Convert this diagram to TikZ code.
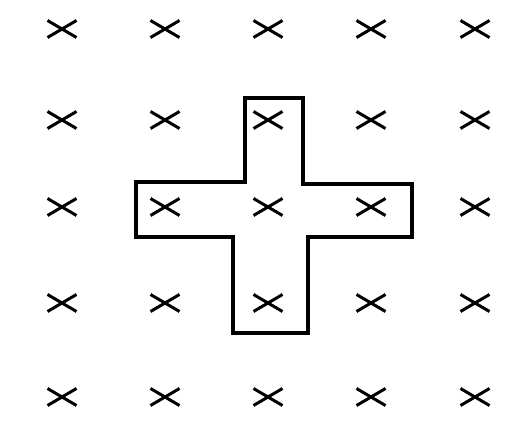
\documentclass[tikz,border=0pt]{standalone}
\usepackage{tikz}
\usetikzlibrary{shapes.misc}

\begin{document}
\begin{tikzpicture}[
    x=1pt, y=-1pt,
    xmark/.style={cross out, draw, line width=3pt, minimum width=26pt, minimum height=14pt, inner sep=0pt},
    outline/.style={line width=4pt, line join=miter}
]
\useasboundingbox (0,0) rectangle (507,425);
\foreach \c/\x in {1/62,2/165,3/268,4/371,5/475}
  \foreach \r/\y in {1/29,2/120,3/207,4/303,5/397}
    \node[xmark] (m\r\c) at (\x,\y) {};

\draw[outline] (245,98) -- (303,98) -- (303,184) -- (412,184) -- (412,237) -- (308,237)
  -- (308,333) -- (233,333) -- (233,237) -- (136,237) -- (136,182) -- (245,182) -- cycle;
\end{tikzpicture}
\end{document}
